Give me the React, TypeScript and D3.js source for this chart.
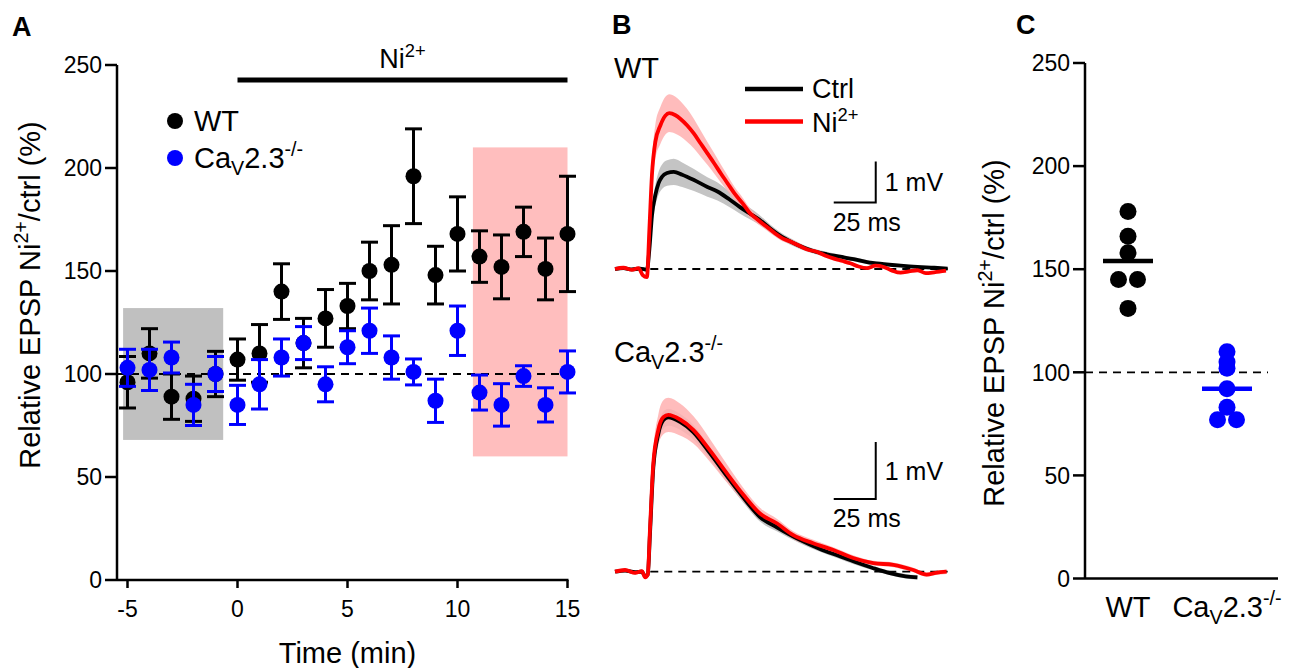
import React from 'react';
import * as d3 from 'd3';

const FONT = "'Liberation Sans', Arial, Helvetica, sans-serif";

// ---------- Panel A data ----------
const timeMin = [-5, -4, -3, -2, -1, 0, 1, 2, 3, 4, 5, 6, 7, 8, 9, 10, 11, 12, 13, 14, 15];
const wtMean = [96, 110, 89, 88, 100, 107, 110, 140, 115, 127, 133, 150, 153, 196, 148, 168, 157, 152, 169, 151, 168];
const wtSem = [12.5, 12, 11, 11, 11, 10, 14, 13.5, 12, 14, 11, 14, 19, 23, 14, 18, 12.5, 15.5, 12, 15, 28];
const cavMean = [103, 102, 108, 85, 100, 85, 95, 108, 115, 95, 113, 121, 108, 101, 87, 121, 91, 85, 99, 85, 101];
const cavSem = [9, 10, 7.5, 10, 8.5, 9.5, 12, 9, 8, 8.5, 8, 11, 10.5, 6.3, 10.5, 12, 8.5, 10.3, 5, 8.3, 10.2];
const yTicksA = [0, 50, 100, 150, 200, 250];
const xTicksA = [-5, 0, 5, 10, 15];
const baselineWindow = { from: -5.2, to: -0.65, lo: 68, hi: 132 };
const niWindow = { from: 10.7, to: 15, lo: 60, hi: 210 };
const niBar = { from: 0, to: 15 };

// ---------- Panel B data (time in ms, amplitude in mV) ----------
const wtCtrlT = [0, 5, 10, 15, 19, 20.5, 22, 24, 26, 28, 31, 35, 40, 47, 55, 61, 68, 74, 80, 86, 92, 98, 104, 110, 118, 126, 134, 142, 150, 160, 170, 180, 190, 198];
const wtCtrlV = [0, 0.02, -0.01, 0.01, -0.02, 0.5, 1.3, 1.8, 2.1, 2.25, 2.34, 2.37, 2.3, 2.17, 2.0, 1.89, 1.7, 1.52, 1.36, 1.2, 1.0, 0.82, 0.68, 0.56, 0.44, 0.36, 0.3, 0.24, 0.17, 0.12, 0.08, 0.05, 0.03, 0.01];
const wtCtrlSem = [0.03, 0.03, 0.03, 0.03, 0.03, 0.1, 0.2, 0.25, 0.28, 0.3, 0.31, 0.32, 0.3, 0.27, 0.24, 0.22, 0.19, 0.16, 0.14, 0.12, 0.1, 0.09, 0.08, 0.07, 0.06, 0.06, 0.05, 0.05, 0.05, 0.04, 0.04, 0.04, 0.03, 0.03];

const wtNiT = [0, 5, 10, 14, 16.5, 19, 20.5, 22, 24, 27, 30, 32.3, 36, 39, 43, 47, 51, 55, 59, 63, 67, 71, 76, 80, 85, 90, 95, 100, 105, 110, 115, 120, 125, 130, 135, 140, 145, 150, 155, 160, 165, 170, 175, 180, 185, 190, 197];
const wtNiV = [0, 0.03, -0.02, 0.02, -0.15, -0.2, 1.0, 2.3, 3.1, 3.5, 3.74, 3.8, 3.75, 3.66, 3.5, 3.3, 3.06, 2.82, 2.58, 2.33, 2.09, 1.85, 1.6, 1.38, 1.2, 1.04, 0.88, 0.74, 0.66, 0.56, 0.47, 0.42, 0.33, 0.26, 0.2, 0.14, 0.06, 0.02, 0.08, 0.05, -0.04, -0.09, -0.06, -0.03, -0.1, -0.08, -0.04];
const wtNiSem = [0.03, 0.03, 0.03, 0.03, 0.03, 0.03, 0.2, 0.35, 0.42, 0.45, 0.46, 0.46, 0.45, 0.43, 0.4, 0.36, 0.32, 0.28, 0.25, 0.22, 0.19, 0.16, 0.14, 0.12, 0.1, 0.09, 0.08, 0.07, 0.06, 0.06, 0.05, 0.05, 0.05, 0.05, 0.05, 0.04, 0.04, 0.04, 0.04, 0.04, 0.04, 0.04, 0.04, 0.04, 0.04, 0.04, 0.04];

const cavCtrlT = [0, 6, 12, 16, 18, 19.5, 20.8, 22.8, 25.8, 28.8, 31.7, 38.7, 46.6, 56.5, 66.5, 76.4, 86.3, 96.3, 110, 122, 133, 143, 153, 163, 173, 180];
const cavCtrlV = [0, 0.02, -0.01, 0, -0.08, -0.05, 0.65, 1.82, 2.42, 2.66, 2.71, 2.63, 2.45, 2.08, 1.68, 1.3, 0.96, 0.78, 0.56, 0.4, 0.28, 0.17, 0.07, -0.02, -0.08, -0.1];
const cavCtrlSem = [0.02, 0.02, 0.02, 0.02, 0.02, 0.02, 0.08, 0.12, 0.14, 0.15, 0.15, 0.14, 0.13, 0.11, 0.1, 0.09, 0.08, 0.07, 0.06, 0.05, 0.05, 0.05, 0.04, 0.04, 0.04, 0.04];

const cavNiT = [0, 6, 12, 16, 18, 19.5, 20.8, 22.8, 25.8, 28.8, 31.7, 38.7, 46.6, 56.5, 66.5, 76.4, 86.3, 96.3, 106.1, 118, 130, 141.8, 153.8, 165.7, 177.6, 185.5, 191, 197.4];
const cavNiV = [0, 0.03, -0.02, 0.01, -0.1, -0.05, 0.73, 1.9, 2.49, 2.71, 2.75, 2.67, 2.49, 2.13, 1.73, 1.35, 1.02, 0.85, 0.64, 0.5, 0.38, 0.24, 0.15, 0.12, 0.03, -0.05, -0.02, 0];
const cavNiSem = [0.02, 0.02, 0.02, 0.02, 0.02, 0.02, 0.1, 0.2, 0.27, 0.3, 0.3, 0.28, 0.24, 0.2, 0.16, 0.12, 0.1, 0.08, 0.07, 0.06, 0.05, 0.05, 0.04, 0.04, 0.04, 0.04, 0.04, 0.04];

const scaleBarMs = 25;
const scaleBarMv = 1;

// ---------- Panel C data ----------
const cCategories = ['WT', 'CaV'];
const cWT = [178, 166, 158, 145, 145, 131];
const cCaV = [110, 105, 102, 92, 83, 77, 77];
const cMeans = [154, 92];
const yTicksC = [0, 50, 100, 150, 200, 250];

const BLUE = '#0000ff';
const RED = '#ff0000';

type Pt = { t: number; v: number; s: number };
const zipTrace = (t: number[], v: number[], s: number[]): Pt[] => t.map((x, i) => ({ t: x, v: v[i], s: s[i] }));

function NiText({ fs, before = '', after = '' }: { fs: number; before?: string; after?: string }) {
  return (
    <>
      {before}Ni
      <tspan fontSize={fs * 0.68} dy={-fs * 0.42}>2+</tspan>
      {after ? <tspan dy={fs * 0.42}>{after}</tspan> : null}
    </>
  );
}

function CaVText({ fs }: { fs: number }) {
  return (
    <>
      Ca
      <tspan fontSize={fs * 0.68} dy={fs * 0.25}>V</tspan>
      <tspan dy={-fs * 0.25}>2.3</tspan>
      <tspan fontSize={fs * 0.68} dy={-fs * 0.42}>-/-</tspan>
    </>
  );
}

function TracePanel({ ctrl, ni, y0, pxPerMv, label, x0 }: any) {
  const x = d3.scaleLinear().domain([0, 200]).range([x0, x0 + 336]);
  const y = d3.scaleLinear().domain([0, 1]).range([y0, y0 - pxPerMv]);
  const area = d3
    .area<Pt>()
    .x((d) => x(d.t))
    .y0((d) => y(d.v - d.s))
    .y1((d) => y(d.v + d.s))
    .curve(d3.curveMonotoneX);
  const line = d3
    .line<Pt>()
    .x((d) => x(d.t))
    .y((d) => y(d.v))
    .curve(d3.curveMonotoneX);
  const barT = 155.2;
  const barV = label === 'WT' ? 1.62 : 1.275;
  return (
    <g>
      <path d={area(ctrl) || ''} fill="#c4c4c4" />
      <path d={area(ni) || ''} fill="#ffb0b0" opacity={0.85} />
      <line x1={x(21)} x2={x(198)} y1={y(0)} y2={y(0)} stroke="#000" strokeWidth={1.8} strokeDasharray="8,6" />
      <path d={line(ctrl) || ''} fill="none" stroke="#000" strokeWidth={3.8} strokeLinejoin="round" />
      <path d={line(ni) || ''} fill="none" stroke={RED} strokeWidth={3.8} strokeLinejoin="round" />
      {/* scale bars */}
      <path
        d={`M${x(barT - scaleBarMs)},${y(barV)}H${x(barT)}V${y(barV + scaleBarMv)}`}
        fill="none"
        stroke="#000"
        strokeWidth={2}
      />
      <text x={x(barT) + 9} y={y(barV + scaleBarMv / 2) + 9} fontSize={25} fontFamily={FONT}>
        1 mV
      </text>
      <text x={x(barT - scaleBarMs / 2) + 12} y={y(barV) + 28} fontSize={25} fontFamily={FONT} textAnchor="middle">
        25 ms
      </text>
    </g>
  );
}

export default function App() {
  // Panel A scales
  const xA = d3.scaleLinear().domain([-5, 15]).range([127.5, 567.5]);
  const yA = d3.scaleLinear().domain([0, 250]).range([580, 65]);
  const axisXA = 117;

  // Panel C scales
  const yC = d3.scaleLinear().domain([0, 250]).range([578.5, 63]);
  const xC = d3.scalePoint<string>().domain(cCategories).range([1128, 1227]);
  const axisXC = 1085;

  const tickFs = 23;
  const titleFs = 29;
  const legFs = 27;

  const dotR = 8;
  const capW = 8.5;

  const series = [
    { mean: wtMean, sem: wtSem, color: '#000' },
    { mean: cavMean, sem: cavSem, color: BLUE },
  ];

  const swarm = (vals: number[]) => {
    const out: { v: number; off: number }[] = [];
    vals.forEach((v, i) => {
      const same = vals.filter((w) => Math.abs(w - v) < 1);
      const k = vals.slice(0, i).filter((w) => Math.abs(w - v) < 1).length;
      out.push({ v, off: (k - (same.length - 1) / 2) * 19 });
    });
    return out;
  };
  const cGroups = [
    { cat: 'WT', pts: swarm(cWT), color: '#000', mean: cMeans[0] },
    { cat: 'CaV', pts: swarm(cCaV), color: BLUE, mean: cMeans[1] },
  ];

  return (
    <div style={{ position: 'absolute', left: 0, top: 0 }}>
      <svg width={1293} height={668} style={{ display: 'block', background: '#fff' }} fontFamily={FONT}>
        {/* ================= Panel A ================= */}
        <text x={12} y={36} fontSize={27} fontWeight="bold">A</text>
        <rect
          x={xA(baselineWindow.from)}
          width={xA(baselineWindow.to) - xA(baselineWindow.from)}
          y={yA(baselineWindow.hi)}
          height={yA(baselineWindow.lo) - yA(baselineWindow.hi)}
          fill="#c0c0c0"
        />
        <rect
          x={xA(niWindow.from)}
          width={xA(niWindow.to) - xA(niWindow.from)}
          y={yA(niWindow.hi)}
          height={yA(niWindow.lo) - yA(niWindow.hi)}
          fill="#ffbebe"
        />
        <line x1={axisXA} x2={xA(15)} y1={yA(100)} y2={yA(100)} stroke="#000" strokeWidth={1.8} strokeDasharray="8,6" />
        {/* y axis */}
        <line x1={axisXA} x2={axisXA} y1={yA(250)} y2={yA(0)} stroke="#000" strokeWidth={2.5} />
        {yTicksA.map((t) => (
          <g key={t}>
            <line x1={axisXA - 12} x2={axisXA} y1={yA(t)} y2={yA(t)} stroke="#000" strokeWidth={2.5} />
            <text x={axisXA - 15} y={yA(t)} dy="0.36em" fontSize={tickFs} textAnchor="end">{t}</text>
          </g>
        ))}
        {/* x axis */}
        <line x1={axisXA} x2={xA(15) + 1} y1={yA(0)} y2={yA(0)} stroke="#000" strokeWidth={2.5} />
        {xTicksA.map((t) => (
          <g key={t}>
            <line x1={xA(t)} x2={xA(t)} y1={yA(0)} y2={yA(0) + 8} stroke="#000" strokeWidth={2.5} />
            <text x={xA(t)} y={yA(0) + 37} fontSize={tickFs} textAnchor="middle">{t}</text>
          </g>
        ))}
        <text x={(xA(-5) + xA(15)) / 2} y={663} fontSize={titleFs} textAnchor="middle">Time (min)</text>
        <text transform={`translate(40,295) rotate(-90)`} fontSize={titleFs} textAnchor="middle">
          <NiText fs={titleFs} before="Relative EPSP " after="/ctrl (%)" />
        </text>
        {/* Ni bar */}
        <line x1={xA(niBar.from)} x2={xA(niBar.to)} y1={80} y2={80} stroke="#000" strokeWidth={5} />
        <text x={xA((niBar.from + niBar.to) / 2)} y={68} fontSize={27} textAnchor="middle">
          <NiText fs={27} />
        </text>
        {/* data */}
        {series.map((s, si) => (
          <g key={si}>
            {timeMin.map((t, i) => {
              const cx = xA(t);
              const top = yA(s.mean[i] + s.sem[i]);
              const bot = yA(s.mean[i] - s.sem[i]);
              return (
                <g key={t} stroke={s.color} strokeWidth={3}>
                  <line x1={cx} x2={cx} y1={top} y2={bot} />
                  <line x1={cx - capW} x2={cx + capW} y1={top} y2={top} />
                  <line x1={cx - capW} x2={cx + capW} y1={bot} y2={bot} />
                </g>
              );
            })}
            {timeMin.map((t, i) => (
              <circle key={'c' + t} cx={xA(t)} cy={yA(s.mean[i])} r={dotR} fill={s.color} />
            ))}
          </g>
        ))}
        {/* legend A */}
        <circle cx={175} cy={121} r={dotR} fill="#000" />
        <text x={194} y={131} fontSize={titleFs}>WT</text>
        <circle cx={175} cy={158} r={dotR} fill={BLUE} />
        <text x={194} y={168} fontSize={titleFs}>
          <CaVText fs={titleFs} />
        </text>

        {/* ================= Panel B ================= */}
        <text x={612} y={34} fontSize={27} fontWeight="bold">B</text>
        <text x={614} y={78} fontSize={titleFs}>WT</text>
        <text x={614} y={362} fontSize={titleFs}>
          <CaVText fs={titleFs} />
        </text>
        <line x1={745} x2={803} y1={89} y2={89} stroke="#000" strokeWidth={4.5} />
        <text x={812} y={98} fontSize={legFs}>Ctrl</text>
        <line x1={745} x2={803} y1={121.5} y2={121.5} stroke={RED} strokeWidth={4.5} />
        <text x={812} y={132} fontSize={legFs}>
          <NiText fs={legFs} />
        </text>
        <TracePanel
          label="WT"
          x0={615}
          y0={269}
          pxPerMv={41}
          ctrl={zipTrace(wtCtrlT, wtCtrlV, wtCtrlSem)}
          ni={zipTrace(wtNiT, wtNiV, wtNiSem)}
        />
        <TracePanel
          label="CaV"
          x0={615}
          y0={571.7}
          pxPerMv={57}
          ctrl={zipTrace(cavCtrlT, cavCtrlV, cavCtrlSem)}
          ni={zipTrace(cavNiT, cavNiV, cavNiSem)}
        />

        {/* ================= Panel C ================= */}
        <text x={1016} y={34} fontSize={27} fontWeight="bold">C</text>
        <line x1={axisXC} x2={1268} y1={yC(100)} y2={yC(100)} stroke="#000" strokeWidth={1.8} strokeDasharray="8,6" />
        <line x1={axisXC} x2={axisXC} y1={yC(250)} y2={yC(0)} stroke="#000" strokeWidth={2.5} />
        {yTicksC.map((t) => (
          <g key={t}>
            <line x1={axisXC - 12} x2={axisXC} y1={yC(t)} y2={yC(t)} stroke="#000" strokeWidth={2.5} />
            <text x={axisXC - 15} y={yC(t)} dy="0.36em" fontSize={tickFs} textAnchor="end">{t}</text>
          </g>
        ))}
        <line x1={axisXC} x2={1278} y1={yC(0)} y2={yC(0)} stroke="#000" strokeWidth={2.5} />
        <text x={xC('WT')} y={617} fontSize={titleFs} textAnchor="middle">WT</text>
        <text x={xC('CaV')} y={617} fontSize={titleFs} textAnchor="middle">
          <CaVText fs={titleFs} />
        </text>
        <text transform={`translate(1004,333) rotate(-90)`} fontSize={titleFs} textAnchor="middle">
          <NiText fs={titleFs} before="Relative EPSP " after="/ctrl (%)" />
        </text>
        {cGroups.map((g) => (
          <g key={g.cat}>
            {g.pts.map((p, i) => (
              <circle key={i} cx={(xC(g.cat) as number) + p.off} cy={yC(p.v)} r={8.5} fill={g.color} />
            ))}
            <line
              x1={(xC(g.cat) as number) - 25}
              x2={(xC(g.cat) as number) + 25}
              y1={yC(g.mean)}
              y2={yC(g.mean)}
              stroke={g.color}
              strokeWidth={4.5}
            />
          </g>
        ))}
      </svg>
    </div>
  );
}
